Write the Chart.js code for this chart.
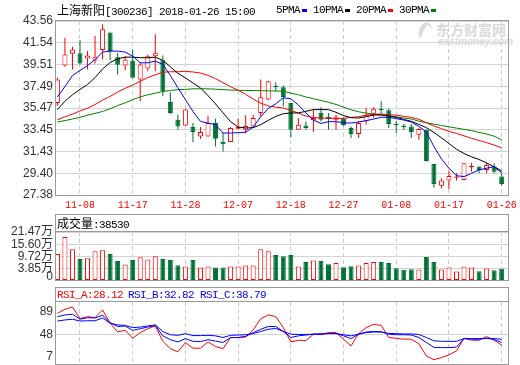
<!DOCTYPE html>
<html><head><meta charset="utf-8">
<script src="https://cdn.jsdelivr.net/npm/chart.js@4.4.1/dist/chart.umd.min.js"></script>
<style>
html,body{margin:0;padding:0;background:#fff;}
#wrap{position:relative;width:520px;height:365px;overflow:hidden;background:#fff;}
canvas{position:absolute;left:0;}
.t{position:absolute;white-space:nowrap;font-family:'Liberation Mono',monospace;font-size:11px;letter-spacing:-0.6px;line-height:14px;color:#000;}
.cjk{font-family:'Noto Sans CJK SC',sans-serif;font-size:12px;letter-spacing:0;}
.hdr{position:absolute;left:55px;width:454px;box-sizing:border-box;border:1px solid #999;background:#fff;}
.sw{position:absolute;width:5px;height:3px;}
</style></head>
<body><div id="wrap">
<div style="position:absolute;left:419px;top:22px;width:12px;height:17px;box-sizing:border-box;border-left:5px solid #dadada;border-top:2px solid #dadada;border-radius:50%;transform:rotate(25deg);"></div>
<div style="position:absolute;left:436px;top:21px;font:bold 14px 'Noto Sans CJK SC';color:#dadada;line-height:16px;">东方财富网</div>
<div style="position:absolute;left:438px;top:37px;font:italic bold 10px 'Liberation Sans';color:#dadada;line-height:10px;">eastmoney.com</div>
<div class="hdr" style="top:214px;height:18px;"></div>
<div class="hdr" style="top:287px;height:15px;"></div>
<canvas id="cMain" width="520" height="216" style="top:0"></canvas>
<canvas id="cVol" width="520" height="78" style="top:210px"></canvas>
<canvas id="cRsi" width="520" height="81" style="top:284px"></canvas>
<div class="t" style="left:57px;top:3px"><span class="cjk">上海新阳</span>[300236] 2018-01-26 15:00</div>
<div class="t" style="left:276px;top:3px">5PMA</div><div class="sw" style="left:302px;top:9px;background:#0000ff"></div>
<div class="t" style="left:313px;top:3px">10PMA</div><div class="sw" style="left:345px;top:9px;background:#000"></div>
<div class="t" style="left:356px;top:3px">20PMA</div><div class="sw" style="left:388px;top:9px;background:#ff0000"></div>
<div class="t" style="left:399px;top:3px">30PMA</div><div class="sw" style="left:431px;top:9px;background:#008000"></div>
<div class="t" style="left:57px;top:216px"><span class="cjk">成交量</span>:38530</div>
<div class="t" style="left:57px;top:288px;color:#ff0000">RSI_A:28.12</div>
<div class="t" style="left:128px;top:288px;color:#0000ff">RSI_B:32.82</div>
<div class="t" style="left:200px;top:288px;color:#0000ff">RSI_C:38.79</div>
</div>
<script>
const dates = ['11-03','11-06','11-07','11-08','11-09','11-10','11-13','11-14','11-15','11-16','11-17','11-20','11-21','11-22','11-23','11-24','11-27','11-28','11-29','11-30','12-01','12-04','12-05','12-06','12-07','12-08','12-11','12-12','12-13','12-14','12-15','12-18','12-19','12-20','12-21','12-22','12-25','12-26','12-27','12-28','12-29','01-02','01-03','01-04','01-05','01-08','01-09','01-10','01-11','01-12','01-15','01-16','01-17','01-18','01-19','01-22','01-23','01-24','01-25','01-26'];
const xTickLabels = ['11-08','11-17','11-28','12-07','12-18','12-27','01-08','01-17','01-26'];
const open = [35.94,39.43,40.52,40.55,40.08,39.89,40.86,42.48,40.20,39.42, 39.89,38.12,39.14,40.29,39.92,36.03,34.38,33.85,33.70,32.83, 32.83,34.07,32.30,32.30,33.55,33.45,33.76,35.01,36.25,37.53, 37.39,35.94,33.45,33.85,34.32,35.01,34.64,34.38,34.50,33.60, 33.05,34.23,34.94,35.38,35.25,33.98,33.82,33.76,32.98,33.45, 30.27,28.25,28.72,28.99,28.78,29.96,30.02,29.71,30.02,29.09];
const close = [38.12,40.45,40.92,39.61,40.36,40.24,42.79,40.76,39.49,39.98, 38.28,39.52,40.29,40.61,37.03,35.01,33.76,35.32,33.23,33.23, 34.07,32.61,32.10,33.60,33.70,33.79,34.54,36.47,37.96,37.41, 36.50,33.45,33.92,33.61,34.54,34.38,34.52,34.69,33.90,33.05, 34.07,34.85,35.41,35.26,33.98,33.86,33.70,33.23,33.51,30.55, 28.41,28.72,29.15,29.11,30.33,30.08,29.71,30.18,29.55,28.41];
const high = [38.28,42.01,41.17,41.79,40.76,42.16,43.25,42.50,40.61,40.29, 40.86,39.67,40.45,42.32,40.36,36.93,34.85,35.40,34.07,33.70, 34.75,34.48,33.14,33.70,34.50,34.80,34.85,38.12,38.00,37.87, 37.56,35.94,34.54,34.22,35.32,35.53,35.01,34.85,34.60,33.76, 34.23,35.47,35.53,36.09,35.41,34.23,33.98,33.98,33.60,33.45, 30.27,28.94,29.62,29.40,30.33,30.39,30.02,30.39,30.33,29.40];
const low = [35.69,39.30,39.05,39.52,39.05,39.61,39.98,39.92,38.58,38.99, 38.21,36.09,38.89,38.89,36.56,34.91,33.45,33.80,32.30,32.60, 32.83,31.90,31.42,32.30,33.50,33.10,33.60,34.69,36.20,37.03, 35.62,32.75,33.45,33.45,33.23,34.22,33.45,33.45,33.80,32.67, 32.67,33.92,34.54,35.01,33.60,33.14,33.45,32.67,32.51,30.49, 28.06,28.00,27.94,28.72,28.78,29.55,29.40,29.40,29.40,28.25];
const ma5 = [36.50,37.46,38.49,38.96,39.42,39.98,40.67,40.76,40.76,40.67, 40.29,39.67,39.67,39.83,39.52,38.50,37.35,36.25,35.16,34.22, 34.07,33.92,33.14,33.14,33.18,33.22,33.70,34.65,35.43,35.86, 36.42,36.33,35.75,35.01,34.35,34.03,34.20,34.20,34.10,34.07, 34.17,34.29,34.44,34.60,34.60,34.48,34.35,34.17,33.76,33.23, 31.89,30.74,29.87,29.18,29.09,29.40,29.71,29.87,30.02,29.62];
const ma10 = [35.32,36.1,36.7,37.2,37.65,38.3,39.1,39.7,40.05,40.2, 40.2,40.15,40.14,40.2,39.9,39.3,38.7,38.27,37.8,37.34, 36.62,35.85,35.01,34.2,33.70,33.61,33.64,33.92,34.32,34.69, 34.94,35.01,35.01,35.16,35.32,35.32,35.32,35.07,34.76,34.57, 34.54,34.66,34.82,34.82,34.72,34.60,34.41,34.23,33.95,33.64, 33.2,32.7,32.17,31.64,31.24,30.93,30.68,30.37,30.0,29.45];
const ma20 = [34.38,34.65,34.9,35.2,35.45,35.8,36.2,36.55,36.95,37.3, 37.6,37.95,38.3,38.55,38.8,38.84,38.84,38.88,38.82,38.72, 38.5,38.2,37.82,37.45,37.12,36.75,36.3,35.92,35.66,35.55, 35.47,35.25,35.0,34.72,34.58,34.54,34.5,34.5,34.5,34.6, 34.66,34.8,34.88,34.92,34.85,34.8,34.7,34.6,34.42,34.1, 33.8,33.55,33.3,33.1,32.88,32.65,32.45,32.25,32.02,31.77];
const ma30 = [34.17,34.3,34.45,34.6,34.8,34.97,35.15,35.4,35.7,35.95, 36.25,36.5,36.7,36.85,37.0,37.1,37.18,37.2,37.25,37.26, 37.25,37.22,37.18,37.14,37.12,37.1,37.09,37.08,37.06,37.05, 37.03,36.85,36.7,36.5,36.33,36.17,36.0,35.8,35.55,35.3, 35.12,35.0,34.9,34.82,34.73,34.65,34.54,34.45,34.25,34.1, 33.97,33.84,33.72,33.6,33.48,33.37,33.2,33.05,32.85,32.51];
const volume = [10.96,19.04,13.22,8.53,8.86,12.25,12.74,10.96,7.57,5.95, 8.05,9.34,8.37,9.83,8.53,8.05,5.63,4.98,8.05,4.50, 4.98,4.50,4.50,4.98,4.98,5.47,5.47,13.22,12.25,10.47, 9.83,10.47,4.98,7.08,7.89,7.57,6.11,6.60,4.66,5.14, 5.47,6.60,7.08,7.08,6.60,4.17,3.37,3.69,3.53,9.50, 7.08,3.53,4.50,2.56,4.98,4.50,2.72,4.01,3.20,3.853];
const rsiA = [86,93.5,97.7,76.4,80.1,78.3,92.3,68,52.2,55.3, 40.7,50.9,58,63,35,21.8,15.8,32.7,22.5,22.5, 34,25.4,21.8,41.8,41.8,43,55.8,76,83.2,80, 60,34,37,36.4,48,47,51,51,38.9,26.7, 49,60,66,64,42,40.5,38.9,38.9,30.5,8.5, 1.5,5.4,10.3,17.6,40.7,37.1,37.1,43.6,37.1,28.12];
const rsiB = [80,83,84.4,75.5,78,77.5,82.5,69,62,63, 55,58,61,64,45,38,34,40,35,34.6, 38,35.5,33,41.8,42,44,50.9,57,62,62, 53,42,45,46.5,48,48.5,49.5,49.5,45,40, 48,52,53,52.5,48,47,47,46.5,42,33, 24,23.6,23.6,24.5,40,39,39,40.5,38.5,32.82];
const rsiC = [72,74,75.3,72,72.5,72.5,77.5,68,65,64, 60,61,63,65,53,47,46,49,45.5,45.5, 46,45,42,46,46.5,47,49,53,57,58.5, 53,48,47.5,47.5,48,48.5,49,49,47,45, 48,51,52,52,49.5,49,48.5,48.5,47.5,42, 36,35,35,35,40,40,40,40.5,40,38.79];
const priceTicks = [27.38,29.40,31.43,33.45,35.47,37.49,39.51,41.54,43.56];
const volTicks = [0,3.85,9.72,15.60,21.47];
const rsiTicks = [7,48,89];

const RED='#ff0000', GREEN='#007033', BLUE='#0000ff';
const X_MIN=-0.186, X_MAX=59.84;
const VOL_MIN=-1.48, VOL_MAX=21.47;
const RSI_MIN=-6.3, RSI_MAX=106.7;
const tickIdx = xTickLabels.map(d=>dates.indexOf(d));
const isUp = i => close[i] >= open[i];
const pts = arr => arr.map((v,i)=>({x:i,y:v}));

const frame = {id:'frame', afterDraw(c){const a=c.chartArea,g=c.ctx;g.save();g.strokeStyle='#999';g.lineWidth=1;
  const l=Math.round(a.left),t=Math.round(a.top),r=Math.round(a.right),b=Math.round(a.bottom);
  g.strokeRect(l-0.5,t-0.5,r-l+1,b-t+1);g.restore();}};

function xScale(show){
  return {type:'linear',min:X_MIN,max:X_MAX,offset:false,
    afterBuildTicks:s=>{s.ticks=tickIdx.map(v=>({value:v}));},
    ticks:{display:show,autoSkip:false,maxRotation:0,minRotation:0,color:RED,font:{family:"'Liberation Mono', monospace",size:10},padding:4,callback:v=>dates[v]},
    grid:{color:'#cccccc',drawTicks:false,offset:false,lineWidth:1},
    border:{display:false,dash:[4,3]},
    afterFit:s=>{s.height=show?21:0;s.paddingLeft=0;s.paddingRight=0;}};
}
function yScale(min,max,ticks,fmt,gridColor){
  return {type:'linear',position:'left',min:min,max:max,beginAtZero:false,
    afterBuildTicks:s=>{s.ticks=ticks.map(v=>({value:v}));},
    ticks:{color:'#333',font:{family:"'Liberation Sans','Noto Sans CJK SC',sans-serif",size:12},padding:3,autoSkip:false,callback:fmt},
    grid:{color:gridColor,drawTicks:false},
    border:{display:false},
    afterFit:s=>{s.width=56;s.paddingTop=0;s.paddingBottom=0;}};
}
const common = {responsive:false,animation:false,devicePixelRatio:1,events:[],
  plugins:{legend:{display:false},tooltip:{enabled:false},title:{display:false}}};

new Chart(document.getElementById('cMain'),{
  type:'bar',
  data:{datasets:[
    {type:'line',data:pts(ma5),borderColor:BLUE,borderWidth:1,pointRadius:0,tension:0,order:0},
    {type:'line',data:pts(ma10),borderColor:'#000',borderWidth:1,pointRadius:0,tension:0,order:0},
    {type:'line',data:pts(ma20),borderColor:RED,borderWidth:1,pointRadius:0,tension:0,order:0},
    {type:'line',data:pts(ma30),borderColor:'#008000',borderWidth:1,pointRadius:0,tension:0,order:0},
    {type:'bar',data:dates.map((d,i)=>({x:i,y:[open[i],close[i]]})),barThickness:5,borderWidth:1,borderSkipped:false,inflateAmount:0,grouped:false,
      backgroundColor:c=>isUp(c.dataIndex)?'#ffffff':GREEN,borderColor:c=>isUp(c.dataIndex)?RED:GREEN,order:1},
    {type:'bar',data:dates.map((d,i)=>({x:i,y:[low[i],high[i]]})),barThickness:1,borderWidth:0,inflateAmount:0,grouped:false,
      backgroundColor:c=>isUp(c.dataIndex)?RED:GREEN,order:2}
  ]},
  options:Object.assign({},common,{
    layout:{padding:{left:0,right:12,top:21,bottom:0}},
    scales:{x:xScale(true),y:yScale(27.38,43.56,priceTicks,v=>v.toFixed(2),'#d4d4d4')}
  }),
  plugins:[frame]
});

new Chart(document.getElementById('cVol'),{
  type:'bar',
  data:{datasets:[
    {data:pts(volume),base:VOL_MIN,barThickness:5,borderWidth:1,borderSkipped:false,inflateAmount:0,grouped:false,
      backgroundColor:c=>isUp(c.dataIndex)?'#ffffff':GREEN,borderColor:c=>isUp(c.dataIndex)?RED:GREEN}
  ]},
  options:Object.assign({},common,{
    layout:{padding:{left:0,right:12,top:22,bottom:8}},
    scales:{x:xScale(false),y:yScale(VOL_MIN,VOL_MAX,volTicks,v=>v===0?'0':v.toFixed(2)+'万',c=>(c.tick&&c.tick.value===0)?'rgba(0,0,0,0)':'#d4d4d4')}
  }),
  plugins:[frame]
});

new Chart(document.getElementById('cRsi'),{
  type:'line',
  data:{datasets:[
    {data:pts(rsiC),borderColor:BLUE,borderWidth:1,pointRadius:0,tension:0},
    {data:pts(rsiB),borderColor:BLUE,borderWidth:1,pointRadius:0,tension:0},
    {data:pts(rsiA),borderColor:RED,borderWidth:1,pointRadius:0,tension:0}
  ]},
  options:Object.assign({},common,{
    layout:{padding:{left:0,right:12,top:18,bottom:1}},
    scales:{x:xScale(false),y:yScale(RSI_MIN,RSI_MAX,rsiTicks,v=>String(v),c=>(c.tick&&c.tick.value===48)?'#d4d4d4':'rgba(0,0,0,0)')}
  }),
  plugins:[frame]
});
</script>
</body></html>
